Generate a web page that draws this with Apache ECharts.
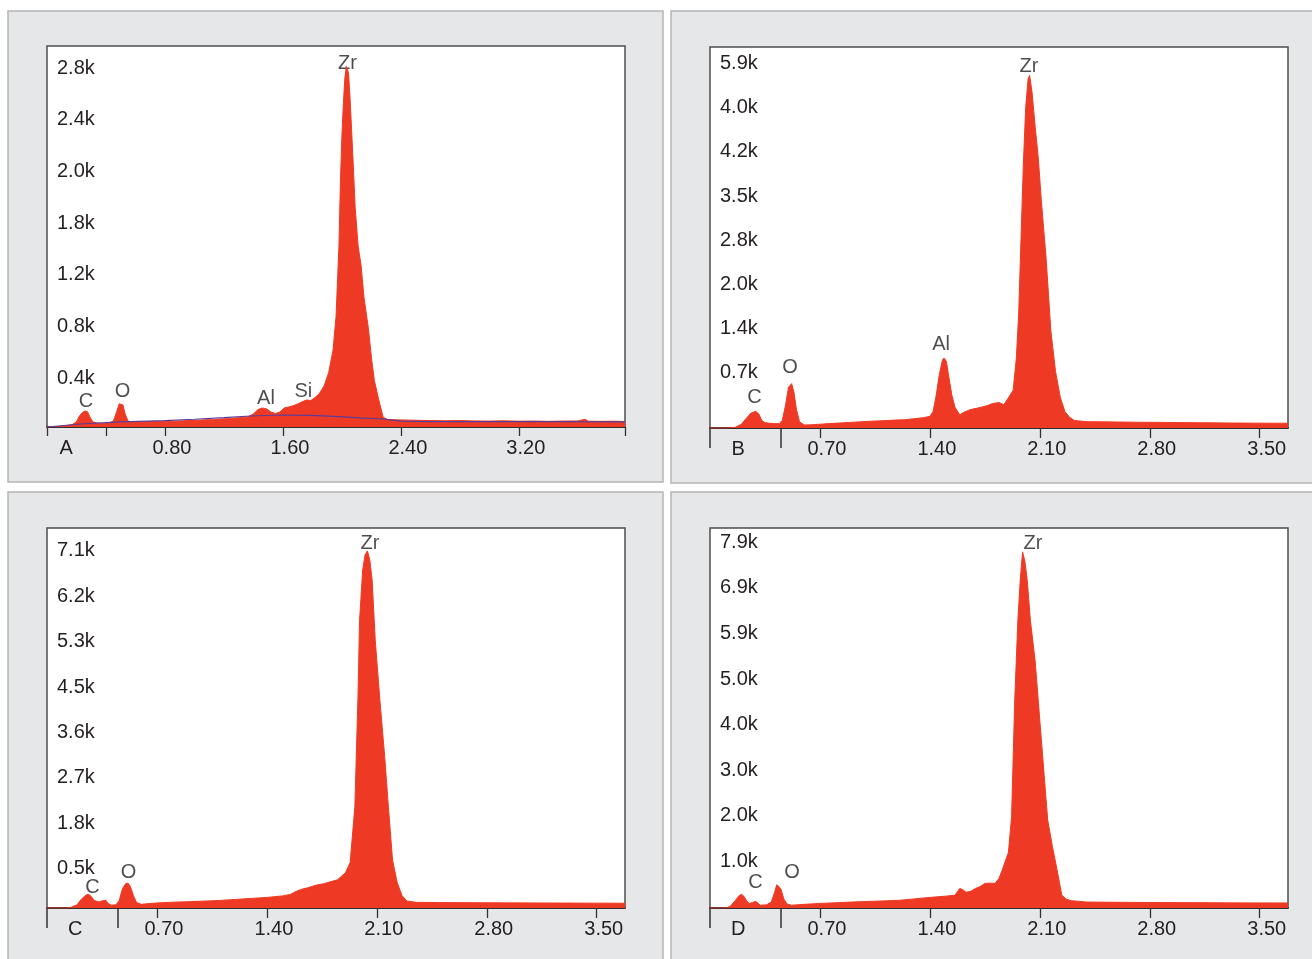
<!DOCTYPE html>
<html>
<head>
<meta charset="utf-8">
<script src="https://cdn.jsdelivr.net/npm/echarts@6/dist/echarts.min.js"></script>
<style>
  html, body { margin: 0; padding: 0; background: #fff; }
  #chart { width: 1312px; height: 959px; }
</style>
</head>
<body>
<div id="chart"></div>
<script>
// EDS spectra, energy (keV) vs counts
const specA = [[0,0],[0.06,3],[0.12,10],[0.17,18],[0.2,40],[0.22,85],[0.24,112],[0.26,124],[0.275,118],[0.29,80],[0.31,40],[0.34,30],[0.38,28],[0.42,32],[0.45,45],[0.47,110],[0.49,180],[0.5,194],[0.515,170],[0.53,100],[0.55,45],[0.6,38],[0.66,40],[0.72,42],[0.78,44],[0.83,52],[0.85,45],[0.9,47],[0.96,50],[1.02,52],[1.08,56],[1.1,62],[1.12,56],[1.18,62],[1.24,66],[1.3,72],[1.36,78],[1.4,100],[1.43,135],[1.46,147],[1.49,140],[1.52,115],[1.55,105],[1.58,116],[1.61,148],[1.64,155],[1.67,165],[1.7,178],[1.73,195],[1.76,209],[1.79,205],[1.82,230],[1.85,263],[1.88,320],[1.91,420],[1.94,596],[1.96,850],[1.98,1400],[1.99,1900],[2.0,2250],[2.01,2500],[2.02,2700],[2.03,2790],[2.045,2740],[2.055,2550],[2.07,2200],[2.09,1700],[2.11,1400],[2.13,1250],[2.15,1000],[2.18,760],[2.2,540],[2.22,360],[2.25,210],[2.28,75],[2.31,58],[2.4,55],[2.5,52],[2.6,50],[2.7,48],[2.8,50],[2.9,47],[3.0,46],[3.1,48],[3.2,45],[3.3,46],[3.4,44],[3.5,46],[3.6,47],[3.65,60],[3.67,45],[3.75,44],[3.85,45],[3.92,42]];
const bgA = [[0,0],[0.25,25],[0.5,40],[0.8,50],[1.0,60],[1.2,72],[1.38,85],[1.6,93],[1.78,90],[1.95,82],[2.12,70],[2.28,62],[2.4,46],[2.6,42],[3.0,42],[3.5,41],[3.92,40]];
const specB = [[0,0],[0.12,0],[0.16,10],[0.2,60],[0.23,150],[0.26,235],[0.29,265],[0.31,225],[0.33,120],[0.35,85],[0.38,75],[0.41,70],[0.44,68],[0.46,120],[0.48,350],[0.5,650],[0.52,706],[0.535,560],[0.55,300],[0.57,100],[0.6,48],[0.65,52],[0.7,60],[0.76,70],[0.82,78],[0.88,88],[0.94,95],[1.0,105],[1.06,112],[1.12,118],[1.18,126],[1.24,132],[1.3,148],[1.36,165],[1.4,185],[1.42,260],[1.44,520],[1.46,850],[1.48,1080],[1.49,1113],[1.505,1060],[1.52,820],[1.54,520],[1.56,330],[1.59,210],[1.62,255],[1.66,295],[1.7,315],[1.74,340],[1.77,360],[1.8,390],[1.84,405],[1.87,370],[1.9,480],[1.93,600],[1.95,1100],[1.965,1800],[1.98,3000],[1.995,4200],[2.01,5100],[2.025,5550],[2.035,5610],[2.05,5350],[2.07,4800],[2.09,4300],[2.11,3600],[2.14,2700],[2.17,1550],[2.2,900],[2.23,490],[2.26,260],[2.29,170],[2.32,120],[2.4,100],[2.5,98],[2.6,95],[2.7,92],[2.8,90],[2.9,88],[3.0,86],[3.1,84],[3.2,82],[3.3,80],[3.4,78],[3.5,77],[3.6,76],[3.68,75]];
const specC = [[0,0],[0.12,0],[0.15,10],[0.19,60],[0.22,180],[0.25,260],[0.265,271],[0.28,235],[0.3,150],[0.33,120],[0.36,150],[0.375,152],[0.39,90],[0.41,55],[0.44,65],[0.46,150],[0.48,380],[0.5,480],[0.515,495],[0.53,430],[0.55,250],[0.57,110],[0.6,73],[0.65,88],[0.7,100],[0.8,115],[0.9,125],[0.97,133],[1.05,142],[1.1,150],[1.2,170],[1.3,190],[1.4,210],[1.45,225],[1.5,240],[1.55,270],[1.58,320],[1.62,370],[1.66,400],[1.71,450],[1.76,480],[1.8,515],[1.85,560],[1.9,700],[1.93,900],[1.96,2000],[1.98,4200],[1.99,5700],[2.01,6700],[2.025,7000],[2.04,7080],[2.055,6900],[2.07,6500],[2.09,5300],[2.12,4100],[2.15,3000],[2.17,2150],[2.2,950],[2.23,500],[2.26,250],[2.29,140],[2.35,112],[2.5,108],[2.7,105],[2.9,102],[3.1,100],[3.3,98],[3.5,96],[3.68,95]];
const specD = [[0,0],[0.1,0],[0.13,40],[0.16,160],[0.185,270],[0.2,300],[0.215,260],[0.235,150],[0.25,100],[0.27,120],[0.29,146],[0.305,110],[0.32,60],[0.36,70],[0.39,130],[0.41,330],[0.425,510],[0.435,520],[0.45,430],[0.47,200],[0.49,90],[0.52,60],[0.6,80],[0.7,100],[0.8,115],[0.9,130],[1.0,142],[1.1,155],[1.21,170],[1.3,200],[1.41,235],[1.5,260],[1.56,280],[1.59,430],[1.61,400],[1.63,345],[1.66,365],[1.69,430],[1.72,470],[1.75,540],[1.78,545],[1.815,540],[1.84,650],[1.86,830],[1.9,1220],[1.92,2000],[1.94,4540],[1.96,6300],[1.975,7180],[1.99,7810],[2.005,7600],[2.02,7180],[2.04,6300],[2.07,5420],[2.1,4110],[2.13,2800],[2.15,1930],[2.18,1350],[2.21,830],[2.24,280],[2.27,190],[2.3,160],[2.4,130],[2.6,125],[2.8,120],[3.0,118],[3.2,115],[3.4,112],[3.68,110]];

// element labels: name, energy, counts
const peaksA = [['C',0.264,201],['O',0.512,271],['Al',1.485,221],['Si',1.739,275],['Zr',2.037,2813]];
const peaksB = [['C',0.283,485],['O',0.509,963],['Al',1.471,1321],['Zr',2.031,5751]];
const peaksC = [['C',0.29,406],['O',0.519,704],['Zr',2.056,7234]];
const peaksD = [['C',0.29,559],['O',0.522,779],['Zr',2.056,7983]];

// axis ticks and labels
const xTicksA = [0, 0.4, 0.8, 1.6, 2.4, 3.2, 3.92];
const xLabelsA = [0.8, 1.6, 2.4, 3.2];
const xTicksB = [0.7, 1.4, 2.1, 2.8, 3.5];
const xLabelsB = [0.7, 1.4, 2.1, 2.8, 3.5];
const sepTicks = [0, 0.45];

const yValsA = [400, 800, 1200, 1600, 2000, 2400, 2800];
const yLabelsA = ['0.4k','0.8k','1.2k','1.8k','2.0k','2.4k','2.8k'];
const yValsB = [700, 1400, 2100, 2800, 3500, 4200, 4900, 5600];
const yLabelsB = ['0.7k','1.4k','2.0k','2.8k','3.5k','4.2k','4.0k','5.9k'];
const yValsC = [900, 1800, 2700, 3600, 4500, 5400, 6300, 7200];
const yLabelsC = ['0.5k','1.8k','2.7k','3.6k','4.5k','5.3k','6.2k','7.1k'];
const yValsD = [1000, 2000, 3000, 4000, 5000, 6000, 7000, 8000];
const yLabelsD = ['1.0k','2.0k','3.0k','4.0k','5.0k','5.9k','6.9k','7.9k'];

const RED = '#ee3a24';
const TXT = '#231f20';
const FONT = '"Liberation Sans", Arial, sans-serif';

// yShift: px the y labels sit below (+) or above (-) their tick
const panels = [
  { letter: 'A', letterAt: 0.13, spec: specA, peaks: peaksA, xMax: 3.92, yMax: 2948,
    xTicks: xTicksA, xLabels: xLabelsA, sep: [], tickLen: 9,
    yVals: yValsA, yLabels: yLabelsA, yShift: 3,
    grid: { left: 47, top: 46, width: 578, height: 381 } },
  { letter: 'B', letterAt: 0.18, spec: specB, peaks: peaksB, xMax: 3.68, yMax: 6061,
    xTicks: xTicksB, xLabels: xLabelsB, sep: sepTicks, tickLen: 10,
    yVals: yValsB, yLabels: yLabelsB, yShift: -12,
    grid: { left: 710, top: 47, width: 578, height: 381 } },
  { letter: 'C', letterAt: 0.18, spec: specC, peaks: peaksC, xMax: 3.68, yMax: 7533,
    xTicks: xTicksB, xLabels: xLabelsB, sep: sepTicks, tickLen: 10,
    yVals: yValsC, yLabels: yLabelsC, yShift: 6,
    grid: { left: 47, top: 528, width: 578, height: 380 } },
  { letter: 'D', letterAt: 0.18, spec: specD, peaks: peaksD, xMax: 3.68, yMax: 8333,
    xTicks: xTicksB, xLabels: xLabelsB, sep: sepTicks, tickLen: 10,
    yVals: yValsD, yLabels: yLabelsD, yShift: -1,
    grid: { left: 710, top: 528, width: 578, height: 380 } }
];

const labelFont = { fontSize: 20, color: TXT, fontFamily: FONT };

const grid = [], xAxis = [], yAxis = [], series = [];
panels.forEach((p, i) => {
  grid.push(Object.assign({ show: true, backgroundColor: '#fff', borderColor: '#4d4d4d', borderWidth: 1.5 }, p.grid));
  xAxis.push({
    gridIndex: i, type: 'value', min: 0, max: p.xMax,
    axisLine: { show: true, onZero: false, lineStyle: { color: '#1a1a1a', width: 1.5 } },
    axisTick: { show: true, customValues: p.xTicks, length: p.tickLen, lineStyle: { color: '#333', width: 1.3 } },
    axisLabel: Object.assign({ customValues: p.xLabels, formatter: v => v.toFixed(2), margin: 11, padding: [0, 0, 0, 14] }, labelFont),
    splitLine: { show: false }
  });
  // shift labels off their tick using an uneven line box
  const lh = Math.max(2, 2 * Math.abs(p.yShift));
  yAxis.push({
    gridIndex: i, type: 'value', min: 0, max: p.yMax,
    axisLine: { show: false }, axisTick: { show: false }, splitLine: { show: false },
    axisLabel: Object.assign({ inside: true, customValues: p.yVals, margin: 10,
      verticalAlign: p.yShift > 0 ? 'top' : 'bottom', lineHeight: lh,
      formatter: v => p.yLabels[p.yVals.indexOf(v)] }, labelFont)
  });
  series.push({
    type: 'line', xAxisIndex: i, yAxisIndex: i, data: p.spec, symbol: 'none',
    lineStyle: { color: RED, width: 1 }, areaStyle: { color: RED, opacity: 1 }, silent: true
  });
  series.push({
    type: 'scatter', xAxisIndex: i, yAxisIndex: i, symbolSize: 1, silent: true,
    itemStyle: { color: 'rgba(0,0,0,0)' },
    data: p.peaks.map(k => ({ name: k[0], value: [k[1], k[2]] })),
    label: Object.assign({ show: true, position: 'inside', formatter: '{b}' }, labelFont)
  });
});
// secondary bottom axes: panel letter and long separator ticks
panels.forEach((p, i) => {
  xAxis.push({
    gridIndex: i, type: 'value', min: 0, max: p.xMax, position: 'bottom',
    axisLine: { show: false },
    axisTick: { show: p.sep.length > 0, customValues: p.sep, length: 20, lineStyle: { color: '#333', width: 1.5 } },
    axisLabel: Object.assign({ customValues: [p.letterAt], formatter: () => p.letter, margin: 11 }, labelFont),
    splitLine: { show: false }
  });
});
series.push({
  type: 'line', xAxisIndex: 0, yAxisIndex: 0, data: bgA, symbol: 'none', silent: true,
  lineStyle: { color: '#5a3d9a', width: 1.2 }
});

const panelBg = (x, y, w, h) => ({
  type: 'rect', z: -10, shape: { x: x, y: y, width: w, height: h },
  style: { fill: '#e6e7e8', stroke: '#b5b5b5', lineWidth: 1.5 }
});

const chart = echarts.init(document.getElementById('chart'), null, { renderer: 'canvas' });
chart.setOption({
  animation: false,
  backgroundColor: '#fff',
  graphic: [
    panelBg(8, 11, 655, 471),
    panelBg(671, 11, 650, 472),
    panelBg(8, 492, 655, 480),
    panelBg(671, 492, 650, 480)
  ],
  grid, xAxis, yAxis, series
});
</script>
</body>
</html>
